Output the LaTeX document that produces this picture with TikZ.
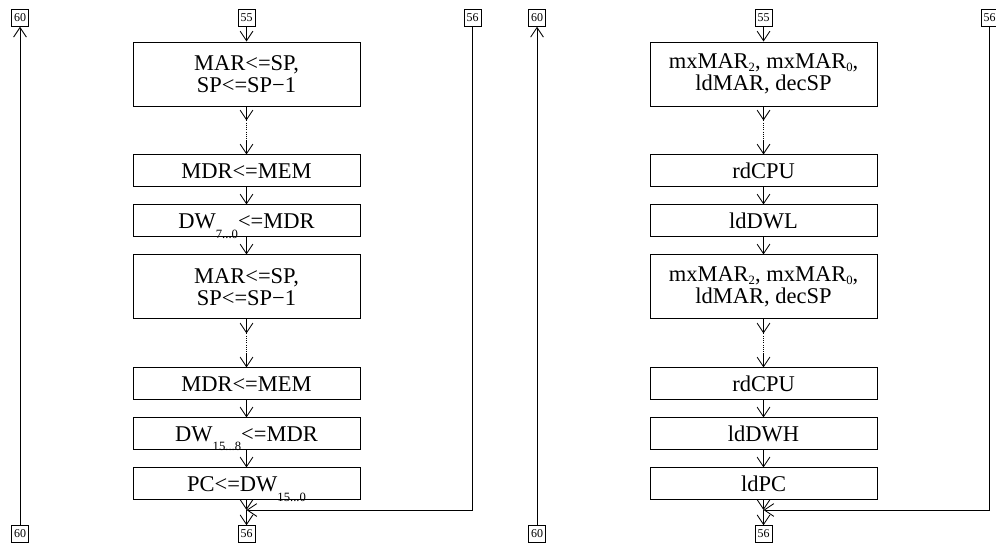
\documentclass[tikz,border=0pt]{standalone}
\usepackage{fontspec}
\setmainfont{Liberation Serif}
\usepackage{tikz}
\usetikzlibrary{positioning, arrows.meta}
\newcommand{\lsub}[2][6pt]{\smash{\raisebox{-#1}{\fontsize{9}{9}\selectfont #2}}}

\begin{document}
\begin{tikzpicture}[
    x=0.25mm, y=-0.25mm,
    node distance=4.25mm,
    op/.style={
        rectangle,
        draw=black,
        line width=0.7pt,
        align=center,
        minimum width=56.75mm,
        minimum height=8mm,
        inner sep=0pt,
        font=\fontsize{16}{16}\selectfont
    },
    op2/.style={op, minimum height=16mm},
    lab/.style={
        rectangle,
        draw=black,
        line width=0.5pt,
        minimum size=4.2mm,
        inner sep=0.5pt,
        font=\fontsize{8.5}{9}\selectfont
    },
    flow/.style={-{Straight Barb[length=2.4mm,width=3.2mm]}, line width=0.6pt},
    wait/.style={densely dotted, line width=0.6pt}
]
\useasboundingbox (0,0) rectangle (996,545);

% left chart
\node[lab] (la60t) at (20,18) {60};
\node[lab] (la60b) at (20,534) {60};
\node[lab] (la55) at (246.5,18) {55};
\node[lab] (la56t) at (472.5,18) {56};
\node[lab] (la56b) at (246.5,534) {56};

\node[op2] (l1) at (246.5,74) {MAR<=SP,\\SP<=SP−1};
\node[op, below=12mm of l1] (l2) {MDR<=MEM};
\node[op, below=of l2] (l3) {DW\lsub[7pt]{7...0}<=MDR};
\node[op2, below=of l3] (l4) {MAR<=SP,\\SP<=SP−1};
\node[op, below=12mm of l4] (l5) {MDR<=MEM};
\node[op, below=of l5] (l6) {DW\lsub[7pt]{15...8}<=MDR};
\node[op, below=of l6] (l7) {PC<=DW\lsub[7pt]{15...0}};
\coordinate (lm) at (246.5,510);

\coordinate[below=3.5mm of l1] (lw1a);
\coordinate[above=3.5mm of l2] (lw1b);
\coordinate[below=3.5mm of l4] (lw2a);
\coordinate[above=3.5mm of l5] (lw2b);

\draw[flow] (la55) -- (l1);
\draw[flow] (l1) -- (lw1a);
\draw[wait] (lw1a) -- (lw1b);
\draw[flow] (lw1b) -- (l2);
\draw[flow] (l2) -- (l3);
\draw[flow] (l3) -- (l4);
\draw[flow] (l4) -- (lw2a);
\draw[wait] (lw2a) -- (lw2b);
\draw[flow] (lw2b) -- (l5);
\draw[flow] (l5) -- (l6);
\draw[flow] (l6) -- (l7);
\draw[flow] (l7) -- (lm);
\draw[flow] (lm) -- (la56b);
\draw[flow] (la56t) |- (lm);
\draw[flow] (la60b) -- (la60t);

% right chart
\node[lab] (ra60t) at (537,18) {60};
\node[lab] (ra60b) at (537,534) {60};
\node[lab] (ra55) at (763.5,18) {55};
\node[lab] (ra56t) at (989.5,18) {56};
\node[lab] (ra56b) at (763.5,534) {56};

\node[op2] (r1) at (763.5,74) {mxMAR\lsub[2pt]{2}, mxMAR\lsub[2.5pt]{0},\\ldMAR, decSP};
\node[op, below=12mm of r1] (r2) {rdCPU};
\node[op, below=of r2] (r3) {ldDWL};
\node[op2, below=of r3] (r4) {mxMAR\lsub[2pt]{2}, mxMAR\lsub[2.5pt]{0},\\ldMAR, decSP};
\node[op, below=12mm of r4] (r5) {rdCPU};
\node[op, below=of r5] (r6) {ldDWH};
\node[op, below=of r6] (r7) {ldPC};
\coordinate (rm) at (763.5,510);

\coordinate[below=3.5mm of r1] (rw1a);
\coordinate[above=3.5mm of r2] (rw1b);
\coordinate[below=3.5mm of r4] (rw2a);
\coordinate[above=3.5mm of r5] (rw2b);

\draw[flow] (ra55) -- (r1);
\draw[flow] (r1) -- (rw1a);
\draw[wait] (rw1a) -- (rw1b);
\draw[flow] (rw1b) -- (r2);
\draw[flow] (r2) -- (r3);
\draw[flow] (r3) -- (r4);
\draw[flow] (r4) -- (rw2a);
\draw[wait] (rw2a) -- (rw2b);
\draw[flow] (rw2b) -- (r5);
\draw[flow] (r5) -- (r6);
\draw[flow] (r6) -- (r7);
\draw[flow] (r7) -- (rm);
\draw[flow] (rm) -- (ra56b);
\draw[flow] (ra56t) |- (rm);
\draw[flow] (ra60b) -- (ra60t);

\end{tikzpicture}
\end{document}
